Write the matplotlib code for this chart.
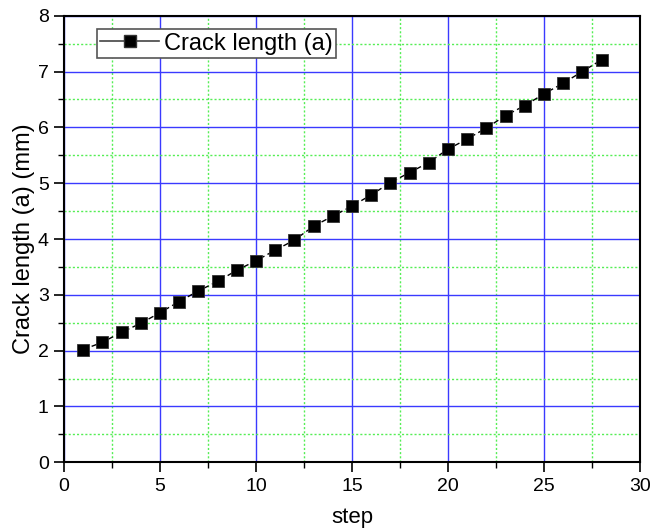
import matplotlib
matplotlib.use("Agg")
import matplotlib.pyplot as plt
from matplotlib.lines import Line2D
from matplotlib.ticker import MultipleLocator

steps = list(range(1, 29))
crack_length = [2.02, 2.15, 2.33, 2.49, 2.68, 2.88, 3.07, 3.24, 3.44, 3.61,
                3.80, 3.98, 4.23, 4.41, 4.59, 4.79, 5.01, 5.19, 5.37, 5.61,
                5.79, 5.99, 6.21, 6.39, 6.60, 6.79, 7.00, 7.21]

plt.rcParams['font.family'] = ['Liberation Sans', 'DejaVu Sans']

fig = plt.figure(figsize=(6.53, 5.30), dpi=100)
ax = fig.add_axes([0.098, 0.1277, 0.882, 0.8427])

ax.plot(steps, crack_length, color='black', linestyle=(0, (4, 2.5)), linewidth=1.0,
        marker='s', markersize=8.5, markerfacecolor='black', markeredgecolor='#333333',
        markeredgewidth=0.6, zorder=3)

ax.set_xlim(0, 30)
ax.set_ylim(0, 8)
ax.xaxis.set_major_locator(MultipleLocator(5))
ax.xaxis.set_minor_locator(MultipleLocator(2.5))
ax.yaxis.set_major_locator(MultipleLocator(1))
ax.yaxis.set_minor_locator(MultipleLocator(0.5))

ax.grid(which='major', color='#3a3aff', linestyle='-', linewidth=1.0, zorder=1)
ax.grid(which='minor', color='#55ee55', linestyle=(0, (1.5, 1.5)), linewidth=1.0, zorder=1)
ax.set_axisbelow(True)

for s in ax.spines.values():
    s.set_linewidth(1.5)
    s.set_color('black')

ax.tick_params(which='major', direction='out', length=7, width=1.2, labelsize=14,
               top=False, right=False, pad=4)
ax.tick_params(which='minor', direction='out', length=4, width=1.0, top=False, right=False)

ax.set_xlabel('step', fontsize=16, labelpad=9)
ax.set_ylabel('Crack length (a) (mm)', fontsize=17, labelpad=2)

handle = Line2D([], [], color='#444444', linestyle='-', linewidth=1.2, marker='s',
                markersize=8.5, markerfacecolor='black', markeredgecolor='#333333')
leg = ax.legend([handle], ['Crack length (a)'], loc='upper left',
                bbox_to_anchor=(0.057, 0.97), fontsize=17, frameon=True, fancybox=False,
                handlelength=2.5, handletextpad=0.2, borderpad=0.15, borderaxespad=0)
leg.get_frame().set_edgecolor('#555555')
leg.get_frame().set_linewidth(1.2)
leg.get_frame().set_alpha(1.0)

fig.savefig('out.png', dpi=100)
